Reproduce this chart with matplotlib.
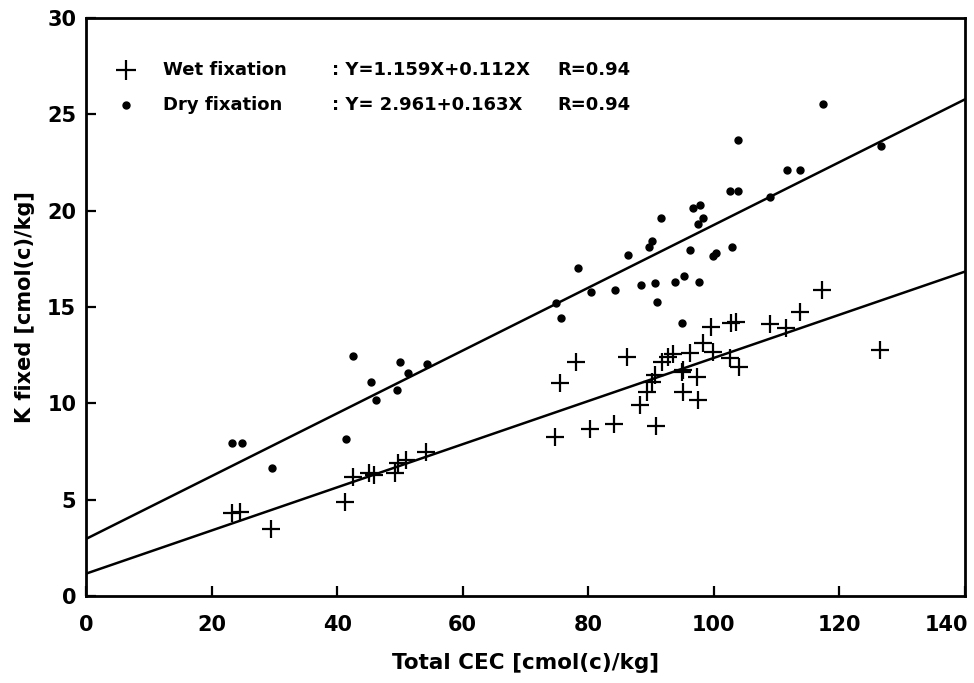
import matplotlib
matplotlib.use("Agg")
import matplotlib.pyplot as plt
import matplotlib.transforms as mtransforms
import numpy as np

plt.rcParams['font.family'] = ['DejaVu Sans']

# Wet fixation (plus markers)
wet_x = [23.2, 24.5, 29.5, 41.2, 42.6, 45.0, 45.8, 49.2, 49.7, 51.0, 54.1,
         74.7, 75.5, 78.1, 80.3, 84.1, 86.2, 88.2, 89.3, 90.1, 90.6, 90.8,
         91.7, 92.7, 93.5, 94.9, 95.1, 95.1, 96.2, 97.3, 97.5, 98.2, 99.6,
         99.9, 102.6, 102.8, 103.6, 104.0, 108.9, 111.5, 113.7, 117.2, 126.4]
wet_y = [4.29, 4.38, 3.46, 4.89, 6.19, 6.37, 6.28, 6.37, 6.89, 7.06, 7.46,
         8.27, 11.04, 12.16, 8.67, 8.93, 12.38, 9.91, 10.60, 11.12, 11.47, 8.84,
         12.16, 12.42, 12.56, 11.64, 10.60, 11.73, 12.59, 11.38, 10.17, 13.11, 13.97,
         12.68, 12.34, 14.15, 14.23, 11.90, 14.10, 13.89, 14.72, 15.88, 12.77]

# Dry fixation (dots)
dry_x = [23.2, 24.8, 29.6, 41.4, 42.6, 45.4, 46.2, 49.6, 50.0, 51.3, 54.3,
         74.8, 75.6, 78.3, 80.4, 84.2, 86.3, 88.4, 89.6, 90.2, 90.6, 90.9,
         91.6, 93.8, 94.9, 95.3, 96.2, 96.6, 97.4, 97.6, 97.8, 98.2, 99.8,
         100.3, 102.9, 102.6, 103.8, 103.9, 108.9, 111.7, 113.7, 117.4, 126.6]
dry_y = [7.92, 7.92, 6.63, 8.15, 12.47, 11.09, 10.17, 10.69, 12.13, 11.59, 12.04,
         15.22, 14.43, 17.04, 15.78, 15.86, 17.68, 16.16, 18.13, 18.44, 16.24, 15.27,
         19.63, 16.31, 14.18, 16.61, 17.96, 20.12, 19.30, 16.31, 20.29, 19.62, 17.64,
         17.82, 18.13, 21.02, 21.02, 23.66, 20.69, 22.09, 22.09, 25.52, 23.34]

# Regression lines (intercept, slope)
wet_fit = (1.159, 0.112)
dry_fit = (2.961, 0.163)

wet_label = "Wet fixation"
dry_label = "Dry fixation"
wet_eq = ": Y=1.159X+0.112X"
dry_eq = ": Y= 2.961+0.163X"
r_text = "R=0.94"

xticks = [0, 20, 40, 60, 80, 100, 120, 140]
yticks = [0, 5, 10, 15, 20, 25, 30]

fig = plt.figure(figsize=(9.74, 6.83), dpi=100)
ax = fig.add_axes([0.0883, 0.1274, 0.9025, 0.8462])

ax.plot(wet_x, wet_y, linestyle='none', marker='+', markersize=13,
        markeredgewidth=1.6, color='black')
ax.plot(dry_x, dry_y, linestyle='none', marker='o', markersize=5,
        color='black')

xl = np.array([0, 140])
ax.plot(xl, wet_fit[0] + wet_fit[1] * xl, color='black', lw=1.8)
ax.plot(xl, dry_fit[0] + dry_fit[1] * xl, color='black', lw=1.8)

ax.set_xlim(0, 140)
ax.set_ylim(0, 30)
ax.set_xticks(xticks)
ax.set_yticks(yticks)
ax.tick_params(direction='in', length=7, width=1.6, labelsize=15)
ax.tick_params(axis='x', pad=14)
ax.tick_params(axis='y', pad=7)
for lab in ax.get_xticklabels() + ax.get_yticklabels():
    lab.set_fontweight('bold')
last = ax.get_xticklabels()[-1]
last.set_horizontalalignment('right')
last.set_transform(last.get_transform() +
                   mtransforms.ScaledTranslation(3 / 100, 0, fig.dpi_scale_trans))
for sp in ax.spines.values():
    sp.set_linewidth(2.0)

ax.set_xlabel("Total CEC [cmol(c)/kg]", fontsize=15.5, fontweight='bold', labelpad=13)
ax.set_ylabel("K fixed [cmol(c)/kg]", fontsize=15, fontweight='bold', labelpad=9)

# Legend drawn manually
ax.plot([6.4], [27.3], marker='+', markersize=14, markeredgewidth=1.6,
        color='black', clip_on=False)
ax.plot([6.4], [25.5], marker='o', markersize=5, color='black', clip_on=False)
txt_kw = dict(fontsize=13, fontweight='bold', va='center', ha='left')
ax.text(12.2, 27.3, wet_label, **txt_kw)
ax.text(12.2, 25.5, dry_label, **txt_kw)
ax.text(39.2, 27.3, wet_eq, **txt_kw)
ax.text(39.2, 25.5, dry_eq, **txt_kw)
ax.text(75.0, 27.3, r_text, **txt_kw)
ax.text(75.0, 25.5, r_text, **txt_kw)

fig.savefig("out.png", dpi=100)
